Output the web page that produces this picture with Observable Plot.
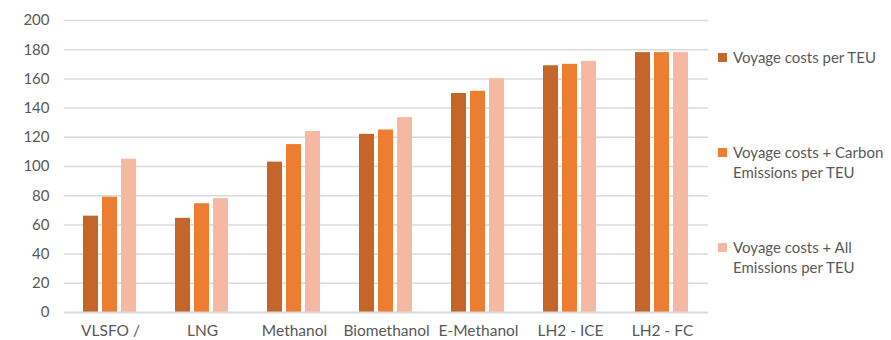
<!DOCTYPE html>
<html>
<head>
<meta charset="utf-8">
<script src="https://cdn.jsdelivr.net/npm/d3@7"></script>
<script src="https://cdn.jsdelivr.net/npm/@observablehq/plot@0.6"></script>
<style>
  html, body { margin: 0; padding: 0; background: #fff; }
  #wrap { position: relative; width: 891px; height: 340px; font-family: Lato, "Liberation Sans", sans-serif; }
  .leg { position: absolute; left: 718px; font-size: 15px; color: #595959; line-height: 20px; }
  .leg .sw { position: absolute; left: 0; top: 6px; width: 9px; height: 9px; }
  .leg .tx { margin-left: 15px; white-space: nowrap; }
</style>
</head>
<body>
<div id="wrap"></div>
<script>
const categories = ["VLSFO /", "LNG", "Methanol", "Biomethanol", "E-Methanol", "LH2 - ICE", "LH2 - FC"];
const seriesNames = ["Voyage costs per TEU", "Voyage costs + Carbon Emissions per TEU", "Voyage costs + All Emissions per TEU"];
const voyage = [66, 64.5, 103, 122, 150, 169, 178];
const voyageCarbon = [79, 74.5, 115, 125, 151.5, 170, 178];
const voyageAll = [105, 78, 124, 133.5, 160, 172, 178];
const yTicks = [0, 20, 40, 60, 80, 100, 120, 140, 160, 180, 200];
const colors = ["#C4652A", "#ED7D31", "#F4B8A3"];

const rows = [];
[voyage, voyageCarbon, voyageAll].forEach((arr, si) => {
  arr.forEach((v, ci) => rows.push({category: categories[ci], series: seriesNames[si], value: v}));
});

const chart = Plot.plot({
  width: 891,
  height: 340,
  marginLeft: 62,
  marginRight: 181,
  marginTop: 20,
  marginBottom: 28,
  style: {fontFamily: "Lato, 'Liberation Sans', sans-serif", fontSize: "15.5px", color: "#595959", background: "#fff"},
  fx: {domain: categories, padding: 0, label: null, axis: "bottom", tickSize: 0, tickPadding: 12},
  x: {domain: seriesNames, paddingInner: 0.2, paddingOuter: 0.917, axis: null},
  y: {domain: [0, 200], ticks: yTicks, label: null, axis: null},
  color: {domain: seriesNames, range: colors},
  marks: [
    Plot.ruleY(yTicks.filter(d => d > 0), {stroke: "#D9D9D9", strokeWidth: 1.5}),
    Plot.barY(rows, {fx: "category", x: "series", y: "value", fill: "series", inset: 0}),
    Plot.ruleY([0], {stroke: "#D9D9D9", strokeWidth: 2}),
    Plot.axisY({ticks: yTicks, tickSize: 0, tickPadding: 15, label: null, fill: "#595959", fontSize: 15})
  ]
});

const wrap = document.getElementById("wrap");
wrap.appendChild(chart);

const legendPos = [
  {top: 47, lines: ["Voyage costs per TEU"]},
  {top: 142, lines: ["Voyage costs + Carbon", "Emissions per TEU"]},
  {top: 237, lines: ["Voyage costs + All", "Emissions per TEU"]}
];
seriesNames.forEach((name, i) => {
  const d = document.createElement("div");
  d.className = "leg";
  d.style.top = legendPos[i].top + "px";
  d.innerHTML = `<div class="sw" style="background:${colors[i]}"></div><div class="tx">${legendPos[i].lines.join("<br>")}</div>`;
  wrap.appendChild(d);
});
</script>
</body>
</html>
